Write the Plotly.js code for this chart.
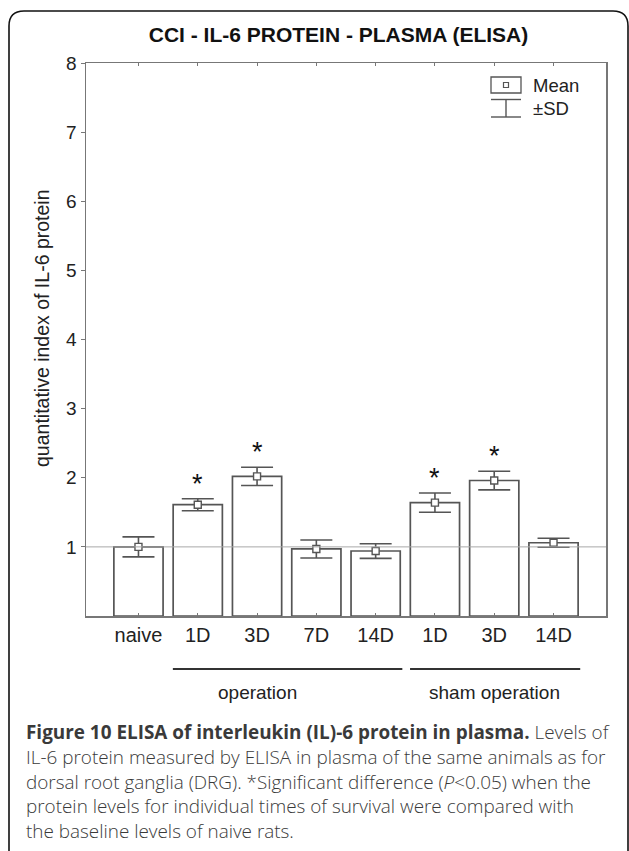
<!DOCTYPE html>
<html>
<head>
<meta charset="utf-8">
<script src="https://cdn.plot.ly/plotly-3.0.1.min.js"></script>
<style>
  html, body { margin: 0; padding: 0; background: #ffffff; }
  #chart { width: 629px; height: 851px; }
</style>
</head>
<body>
<div id="chart"></div>
<script>
// ---- data ----
const categories = ['naive', '1D', '3D', '7D', '14D', '1D', '3D', '14D'];
const meanValues = [1.00, 1.61, 2.02, 0.97, 0.94, 1.64, 1.96, 1.06];
const sdValues   = [0.145, 0.087, 0.132, 0.13, 0.106, 0.14, 0.135, 0.065];
const significant = [false, true, true, false, false, true, true, false];
const yTickValues = [1, 2, 3, 4, 5, 6, 7, 8];
const groupLabels = ['operation', 'sham operation'];
const groupFirst = [1, 5];
const groupLast = [4, 7];
const groupLabelAt = [2, 6];
const chartTitle = 'CCI - IL-6 PROTEIN - PLASMA (ELISA)';
const yTitle = 'quantitative index of IL-6 protein';
const legendTexts = ['Mean', '\u00b1SD'];
const captionLines = [
  '<b>Figure 10 ELISA of interleukin (IL)-6 protein in plasma.</b> Levels of',
  'IL-6 protein measured by ELISA in plasma of the same animals as for',
  'dorsal root ganglia (DRG). *Significant difference (<i>P</i>&lt;0.05) when the',
  'protein levels for individual times of survival were compared with',
  'the baseline levels of naive rats.'
];

// ---- layout geometry (pixels) ----
const W = 629, H = 851;
const L = 86, R = 606, T = 63, B = 616;
const PW = R - L, PH = B - T;
const X = px => (px - L) / PW;
const Y = py => (B - py) / PH;

const xs = categories.map((_, i) => i);
const FONT = 'Liberation Sans, Arial, Helvetica, sans-serif';
const EDGE = '#555555';
const TXT = '#222222';

const traces = [
  {
    type: 'bar', x: xs, y: meanValues, width: 0.83,
    marker: { color: '#ffffff', line: { color: EDGE, width: 1.7 } },
    hoverinfo: 'skip', showlegend: false
  },
  {
    type: 'scatter', mode: 'markers', x: xs, y: meanValues,
    marker: { symbol: 'square', size: 7, color: '#ffffff', line: { color: EDGE, width: 1.4 } },
    error_y: { type: 'data', array: sdValues, visible: true, color: EDGE, thickness: 1.6, width: 16 },
    hoverinfo: 'skip', showlegend: false
  }
];

const shapes = [];
// reference line at the naive baseline
shapes.push({ type: 'line', xref: 'paper', x0: 0, x1: 1, yref: 'y', y0: meanValues[0], y1: meanValues[0],
  line: { color: '#a8a8a8', width: 1 }, layer: 'above' });

// group lines under the axis
for (let g = 0; g < groupLabels.length; g++) {
  shapes.push({ type: 'line', xref: 'x', x0: groupFirst[g] - 0.42, x1: groupLast[g] + 0.45,
    yref: 'paper', y0: Y(669), y1: Y(669), line: { color: '#333333', width: 2 } });
}

// legend glyphs
shapes.push({ type: 'rect', xref: 'paper', yref: 'paper', x0: X(491), x1: X(521), y0: Y(77), y1: Y(93),
  line: { color: EDGE, width: 1.3 } });
shapes.push({ type: 'rect', xref: 'paper', yref: 'paper', x0: X(503.5), x1: X(508.5), y0: Y(82.5), y1: Y(87.5),
  line: { color: EDGE, width: 1.2 } });
shapes.push({ type: 'line', xref: 'paper', yref: 'paper', x0: X(491), x1: X(521), y0: Y(99.5), y1: Y(99.5),
  line: { color: EDGE, width: 1.4 } });
shapes.push({ type: 'line', xref: 'paper', yref: 'paper', x0: X(506), x1: X(506), y0: Y(99.5), y1: Y(117),
  line: { color: EDGE, width: 1.4 } });
shapes.push({ type: 'line', xref: 'paper', yref: 'paper', x0: X(491), x1: X(521), y0: Y(117), y1: Y(117),
  line: { color: EDGE, width: 1.4 } });

// outer rounded frame
const fp = `M ${X(9)},${Y(880)} L ${X(9)},${Y(26)} Q ${X(9)},${Y(11)} ${X(24)},${Y(11)} ` +
           `L ${X(613)},${Y(11)} Q ${X(628)},${Y(11)} ${X(628)},${Y(26)} L ${X(628)},${Y(880)}`;
shapes.push({ type: 'path', xref: 'paper', yref: 'paper', path: fp, line: { color: '#111111', width: 1.6 } });

const annotations = [];
// significance stars
for (let i = 0; i < xs.length; i++) {
  if (significant[i]) {
    annotations.push({ x: xs[i], y: meanValues[i] + sdValues[i], xref: 'x', yref: 'y', text: '*',
      showarrow: false, yanchor: 'middle', yshift: 15, font: { family: FONT, size: 27, color: '#111' } });
  }
}
// group labels
for (let g = 0; g < groupLabels.length; g++) {
  annotations.push({ x: groupLabelAt[g], xref: 'x', y: Y(692), yref: 'paper', text: groupLabels[g],
    showarrow: false, xanchor: 'center', yanchor: 'middle', font: { family: FONT, size: 19, color: TXT } });
}
// y title
annotations.push({ x: X(42), y: Y(328), xref: 'paper', yref: 'paper', text: yTitle, textangle: -90,
  showarrow: false, xanchor: 'center', yanchor: 'middle', font: { family: FONT, size: 19.5, color: TXT } });
// legend texts
annotations.push({ x: X(531), y: Y(86), xref: 'paper', yref: 'paper', text: legendTexts[0],
  showarrow: false, xanchor: 'left', yanchor: 'middle', font: { family: FONT, size: 18.5, color: TXT } });
annotations.push({ x: X(531), y: Y(108.5), xref: 'paper', yref: 'paper', text: legendTexts[1],
  showarrow: false, xanchor: 'left', yanchor: 'middle', font: { family: FONT, size: 18.5, color: TXT } });
// caption
const capY = [732, 757, 781.5, 806, 831];
for (let k = 0; k < captionLines.length; k++) {
  annotations.push({ x: X(24), y: Y(capY[k]), xref: 'paper', yref: 'paper', text: captionLines[k],
    showarrow: false, xanchor: 'left', yanchor: 'middle', align: 'left',
    font: { family: 'Open Sans, Noto Sans, sans-serif', size: 18.9, weight: 300, color: '#3a3a3a' } });
}

const layout = {
  width: W, height: H,
  margin: { l: L, r: W - R, t: T, b: H - B, pad: 0 },
  paper_bgcolor: '#ffffff', plot_bgcolor: '#ffffff',
  showlegend: false,
  title: { text: '<b>' + chartTitle + '</b>', x: 338.5 / W, xanchor: 'center', xref: 'container',
    y: 1 - 35 / H, yref: 'container', yanchor: 'middle', font: { family: FONT, size: 21, color: '#111' } },
  xaxis: {
    range: [-0.885, 7.885], tickmode: 'array', tickvals: xs, ticktext: categories,
    ticks: 'inside', ticklen: 3, tickwidth: 1, tickcolor: '#777',
    showline: true, linecolor: '#777777', linewidth: 1.5, mirror: 'ticks',
    showgrid: false, zeroline: false, fixedrange: true,
    tickfont: { family: FONT, size: 20, color: TXT }
  },
  yaxis: {
    range: [0, 8], tickmode: 'array', tickvals: yTickValues, ticktext: yTickValues.map(String),
    ticks: 'outside', ticklen: 4, tickwidth: 1, tickcolor: '#777',
    showline: true, linecolor: '#777777', linewidth: 1.5, mirror: true,
    showgrid: false, zeroline: false, fixedrange: true,
    tickfont: { family: FONT, size: 19, color: TXT }
  },
  shapes: shapes,
  annotations: annotations
};

Plotly.newPlot('chart', traces, layout, { displayModeBar: false, staticPlot: true });
</script>
</body>
</html>
